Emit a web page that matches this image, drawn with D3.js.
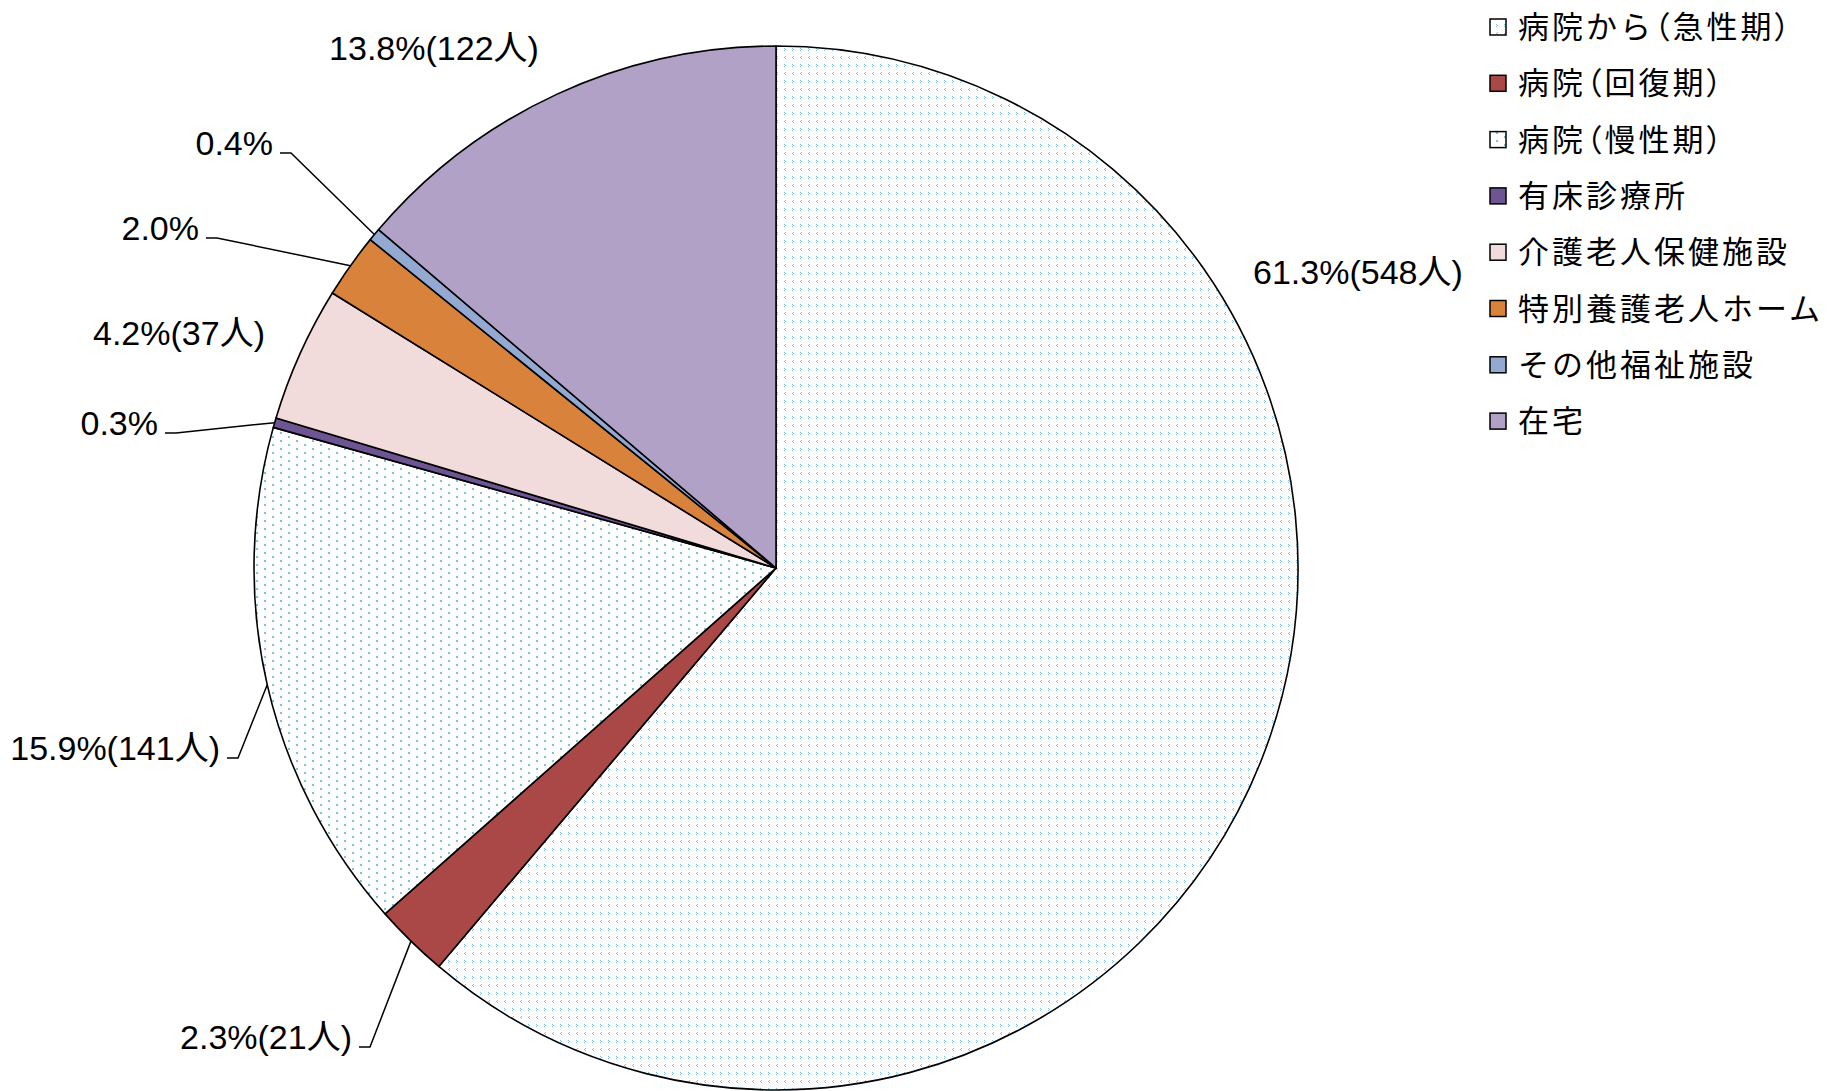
<!DOCTYPE html>
<html><head><meta charset="utf-8">
<script src="https://cdn.jsdelivr.net/npm/d3@7"></script>
<style>
body{margin:0;background:#fff}
.paren{font-feature-settings:"palt" 1;}
</style></head><body>
<svg id="chart" width="1841" height="1091"></svg>
<script>
// ---- data ----
const categories = ["病院から（急性期）","病院（回復期）","病院（慢性期）","有床診療所","介護老人保健施設","特別養護老人ホーム","その他福祉施設","在宅"];
const percents = [61.3, 2.3, 15.9, 0.3, 4.2, 2.0, 0.4, 13.8];
const counts = [548, 21, 141, null, 37, null, null, 122];
const fills = ["url(#pAcute)", "#a94846", "url(#pChronic)", "#6d5493", "#f1dcdb", "#d9823c", "#93a9d1", "#b2a1c7"];

// ---- layout ----
const W = 1841, H = 1091, cx = 776, cy = 568, R = 522;
const labelLayout = [
  {x:1253, y:272, anchor:"start"},
  {x:352, y:1037, anchor:"end", leader:true},
  {x:220, y:748, anchor:"end", leader:true},
  {x:158, y:423, anchor:"end", leader:true},
  {x:179, y:333, anchor:"middle"},
  {x:199, y:228, anchor:"end", leader:true},
  {x:273, y:143, anchor:"end", leader:true},
  {x:434, y:48, anchor:"middle"}
];

const svg = d3.select("#chart");
const defs = svg.append("defs");
const blue = "#7cc2da";
// acute pattern (small chevron-like confetti)
const pA = defs.append("pattern").attr("id","pAcute").attr("patternUnits","userSpaceOnUse")
  .attr("width",16).attr("height",16);
pA.append("rect").attr("width",16).attr("height",16).attr("fill","#fff");
[[1,0],[0,1],[1,2],[8,8],[9,9],[8,10],[0,8],[1,9],[0,10],[9,0],[8,1],[9,2]].forEach(([x,y])=>{
  pA.append("rect").attr("x",x).attr("y",y).attr("width",1).attr("height",1).attr("fill",blue);
});
// chronic pattern (dots)
const pC = defs.append("pattern").attr("id","pChronic").attr("patternUnits","userSpaceOnUse")
  .attr("width",16).attr("height",8);
pC.append("rect").attr("width",16).attr("height",8).attr("fill","#fff");
[[0,0],[8,4]].forEach(([x,y])=>{
  pC.append("rect").attr("x",x).attr("y",y).attr("width",2).attr("height",2).attr("fill",blue);
});

const data = categories.map((c,i)=>({cat:c, v:percents[i], n:counts[i], i}));
const pie = d3.pie().sort(null).value(d=>d.v).startAngle(0).endAngle(2*Math.PI);
const arcs = pie(data);
const arc = d3.arc().innerRadius(0).outerRadius(R);

const g = svg.append("g").attr("transform",`translate(${cx},${cy})`);
g.selectAll("path.slice").data(arcs).join("path").attr("class","slice")
  .attr("d",arc).attr("fill",d=>fills[d.data.i])
  .attr("stroke","#000").attr("stroke-width",1.6).attr("stroke-linejoin","round");

// labels
const fmt = d3.format(".1f");
const lab = svg.append("g");
arcs.forEach(a=>{
  const L = labelLayout[a.data.i];
  const txt = fmt(a.data.v)+"%" + (a.data.n!=null ? "("+a.data.n+"人)" : "");
  lab.append("text").attr("x",L.x).attr("y",L.y).attr("dy","0.35em")
    .attr("text-anchor",L.anchor)
    .style("font-family","'Liberation Sans','Noto Sans CJK JP',sans-serif")
    .style("font-size","34px").attr("fill","#000").text(txt);
  if(L.leader){
    const mid = (a.startAngle+a.endAngle)/2;
    const px = cx + R*Math.sin(mid), py = cy - R*Math.cos(mid);
    lab.append("path").attr("d",`M${L.x+7},${L.y+10}H${L.x+18}L${px},${py}`)
      .attr("fill","none").attr("stroke","#000").attr("stroke-width",1.5);
  }
});

// legend
const lg = svg.append("g");
categories.forEach((c,i)=>{
  const yc = 27 + i*56.3;
  lg.append("rect").attr("x",1490).attr("y",yc-8).attr("width",16).attr("height",16)
    .attr("fill",fills[i]).attr("stroke","#000").attr("stroke-width",1.5);
  const t = lg.append("text").attr("x",1518).attr("y",yc).attr("dy","0.36em")
    .style("font-family","'Noto Sans CJK JP',sans-serif").style("font-size","31px")
    .style("letter-spacing","3px").attr("fill","#000");
  c.split(/([（）])/).filter(s=>s.length).forEach(s=>{
    const ts = t.append("tspan").text(s);
    if(s==="（"||s==="）") ts.attr("class","paren");
  });
});
</script>
</body></html>
